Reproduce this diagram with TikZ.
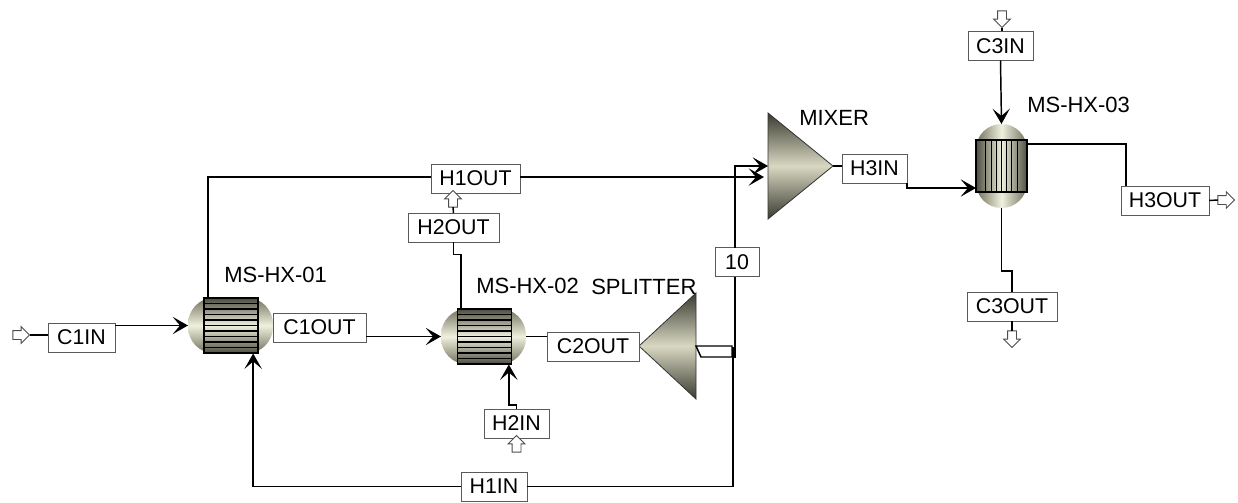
\documentclass[tikz,border=0pt]{standalone}
\usepackage{fontspec}
\setmainfont{Liberation Sans}
\usetikzlibrary{positioning,arrows.meta,calc,shapes.geometric,shapes.arrows}
\definecolor{shelldark}{RGB}{112,112,92}
\definecolor{shelllight}{RGB}{240,240,222}
\definecolor{conedark}{RGB}{58,58,48}
\definecolor{conelight}{RGB}{216,216,194}
\definecolor{boxline}{RGB}{90,90,90}
\tikzset{
  strbox/.style={draw=boxline,fill=white,line width=.7pt,inner sep=0pt,outer sep=0pt,minimum height=21.75pt,minimum width=#1*.75pt,font=\fontsize{16}{18}\selectfont},
  tag/.style={inner sep=0pt,font=\fontsize{16.5}{18}\selectfont},
  shellh/.style={rounded corners=20pt,minimum width=85*.75pt,minimum height=56*.75pt,inner sep=0pt,outer sep=0pt,top color=shelldark,bottom color=shelldark,middle color=shelllight},
  shellv/.style={rounded corners=19pt,minimum width=51*.75pt,minimum height=84*.75pt,inner sep=0pt,outer sep=0pt,left color=shelldark,right color=shelldark,middle color=shelllight},
  bundleh/.style={draw=black,line width=1.1pt,inner sep=0pt,outer sep=0pt,minimum width=54*.75pt,minimum height=55*.75pt,top color=shelldark!70!black,bottom color=shelldark!70!black,middle color=shelllight},
  bundlev/.style={draw=black,line width=1.1pt,inner sep=0pt,outer sep=0pt,minimum width=51*.75pt,minimum height=52*.75pt,left color=shelldark!70!black,right color=shelldark!70!black,middle color=shelllight},
  tubeline/.style={draw=black,line width=.9pt},
  cone/.style={isosceles triangle,isosceles triangle stretches,inner sep=0pt,outer sep=0pt,draw=black!80,line width=.6pt,top color=conedark,bottom color=conedark,middle color=conelight},
  port/.style={single arrow,draw=black!70,fill=white,line width=.6pt,inner sep=0pt,outer sep=0pt,text height=6pt,text depth=0pt,minimum width=12.5pt,minimum height=12.5pt,single arrow head extend=3pt,rotate=#1},
  wire/.style={line width=1.1pt,draw=black},
  flow/.style={wire,-{Stealth[length=11.5pt,width=13pt,inset=5.5pt]}},
}

\begin{document}
\begin{tikzpicture}[x=.75pt,y=-.75pt]
  \useasboundingbox (0,0) rectangle (1238,503);
  % exchangers
  \node[shellh] (hxa) at (230.5,325.5) {};
  \node[bundleh] (hxatube) at (231,325.5) {};
  \node[shellh] (hxb) at (483.5,336.5) {};
  \node[bundleh] (hxbtube) at (484.5,336.5) {};
  \node[shellv] (hxc) at (1001.5,166) {};
  \node[bundlev] (hxctube) at (1001.5,166) {};
  \foreach \hx in {hxatube,hxbtube}
    \foreach \off in {-22,-16.5,-11,-5.5,0,5.5,11,16.5,22}
      \draw[tubeline] ([yshift=\off*.75pt]\hx.west) -- ([yshift=\off*.75pt]\hx.east);
  \foreach \off in {-16,-10,-5,0,5,10,16}
    \draw[tubeline] ([xshift=\off*.75pt]hxctube.north) -- ([xshift=\off*.75pt]hxctube.south);
  % splitter and mixer
  \node[cone,shape border rotate=180,anchor=apex,minimum height=57*.75pt,minimum width=106*.75pt] (splitter) at (639,346) {};
  \node[cone,anchor=apex,minimum height=65*.75pt,minimum width=106*.75pt] (mixer) at (833,166) {};
  % stream boxes
  \node[strbox=67] (c1in) at (81.5,337.5) {C1IN};
  \node[strbox=93] (c1out) at (319.5,327.5) {C1OUT};
  \node[strbox=89] (h1out) at (475.5,178.5) {H1OUT};
  \node[strbox=91] (h2out) at (453.5,227.5) {H2OUT};
  \node[strbox=92] (c2out) at (593,346.5) {C2OUT};
  \node[strbox=65] (h2in) at (516.5,423.5) {H2IN};
  \node[strbox=66] (h1in) at (494,486.5) {H1IN};
  \node[strbox=44] (tear) at (737,262) {10};
  \node[strbox=65] (h3in) at (874.5,168.5) {H3IN};
  \node[strbox=65] (c3in) at (1000.5,46) {C3IN};
  \node[strbox=88] (h3out) at (1165,200.5) {H3OUT};
  \node[strbox=90] (c3out) at (1012,306.5) {C3OUT};
  % block labels
  \node[tag,anchor=west] (lblhxa) at (224,275) {MS-HX-01};
  \node[tag,anchor=west] (lblhxb) at (476,286) {MS-HX-02};
  \node[tag,anchor=west] (lblsplit) at (591,287) {SPLITTER};
  \node[tag,anchor=west] (lblmix) at (799,118) {MIXER};
  \node[tag,anchor=west] (lblhxc) at (1027,105) {MS-HX-03};
  % open arrows
  \node[port=0] (c1feed) at (19,335) {};
  \node[port=90] (h2feed) at (516.5,446) {};
  \node[port=90] (h2vent) at (453,201) {};
  \node[port=270] (c3feed) at (1002,17) {};
  \node[port=0] (h3vent) at (1224,200) {};
  \node[port=270] (c3vent) at (1012,337) {};
  % streams
  \draw[wire] (c1feed.tip) -- (c1feed.tip -| c1in.west);
  \draw[flow] ([yshift=9pt]c1in.east) -- (hxa.west);
  \draw[wire] ([xshift=-17pt]hxa.north) |- ([yshift=1.1pt]h1out.west);
  \draw[flow,shorten >=3pt] ([yshift=1.1pt]h1out.east) -- ([yshift=1.1pt]h1out.east -| mixer.lower side);
  \draw[wire] (mixer.apex) -- (mixer.apex -| h3in.west);
  \draw[flow] (h3in.south east) -- ++(0,5) -- (hxc.west |- 976,188);
  \draw[flow] (hxb.west -| c1out.east) -- (hxb.west);
  \draw[wire] (hxb.east) -- (c2out.west |- hxb.east);
  \draw[wire] ([xshift=-17pt]hxb.north) -- ++(0,-54) -| (h2out.south);
  \draw[wire] (h2out.north) -- (h2vent.tail);
  \draw[flow] (h2in.north) -- ++(0,-4) -| ([xshift=19pt]hxb.south);
  \draw[wire] (splitter.lower side) -- ++(36,0) -- ++(0,11) -- ++(-31,0) -- cycle;
  \draw[wire] (tear.south -| 735,0) -- (735,358);
  \draw[flow] (tear.north -| 735,0) |- (mixer.lower side);
  \draw[wire] (733,347) |- (h1in.east);
  \draw[flow] (h1in.west) -| ([xshift=17pt]hxa.south);
  \draw[wire] (c3feed.tip) -- (c3feed.tip |- c3in.north);
  \draw[flow] (c3in.south) -- (hxc.north);
  \draw[wire] ([yshift=16.5pt]hxc.east) -| (h3out.north -| 1126,0);
  \draw[wire] (h3out.east) -- (h3vent.tail);
  \draw[wire] (hxc.south) -- ++(0,63) -| (c3out.north);
  \draw[wire] (c3out.south) -- (c3vent.tail);
\end{tikzpicture}
\end{document}
